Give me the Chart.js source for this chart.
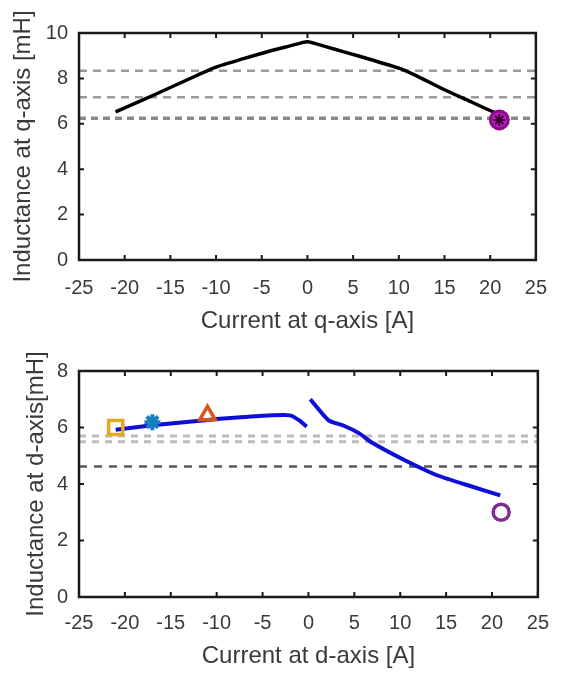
<!DOCTYPE html>
<html>
<head>
<meta charset="utf-8">
<script src="https://cdn.jsdelivr.net/npm/chart.js@4/dist/chart.umd.min.js"></script>
<style>
  body { margin: 0; background: #fff; }
  canvas { display: block; }
</style>
</head>
<body>
<canvas id="q-chart" width="563" height="340"></canvas>
<canvas id="d-chart" width="563" height="335"></canvas>
<script>
// --- DATA ---
const qCurrent = [-21, -18, -15, -12, -10, -7, -4, -2, 0, 2, 4, 7, 10, 12, 15, 18, 21];
const qInductance = [6.53, 7.05, 7.6, 8.15, 8.5, 8.87, 9.22, 9.42, 9.62, 9.4, 9.17, 8.82, 8.45, 8.1, 7.5, 6.95, 6.4];
const qRefLines = [8.34, 7.17];
const qRefDotted = [6.24];
const qMarker = { x: 21, y: 6.17 };

const dCurrentNeg = [-21, -17, -13, -10, -7, -4, -2, -1, -0.2];
const dInductanceNeg = [5.92, 6.08, 6.2, 6.3, 6.37, 6.43, 6.43, 6.25, 6.03];
const dCurrentPos = [0.2, 2.2, 3.8, 5.5, 7, 10.5, 14, 17.7, 20.9];
const dInductancePos = [7.0, 6.25, 6.07, 5.8, 5.45, 4.84, 4.31, 3.92, 3.6];
const dRefBand = [5.5, 5.7];
const dRefLines = [4.62];
const dMarkers = [
  { x: -21, y: 6.0, style: 'rect', color: '#E3A921', size: 10 },
  { x: -17, y: 6.19, style: 'star', color: '#1A7FC0', size: 8 },
  { x: -11, y: 6.43, style: 'triangle', color: '#D9541C', size: 9 },
  { x: 21, y: 3.0, style: 'circle', color: '#7E2F8E', size: 8 }
];

const xTicks = { min: -25, max: 25, step: 5 };
const FONT = '"Liberation Sans", Arial, sans-serif';
const TEXT = '#3a3a3a';

// --- HELPERS ---
const toPoints = (xs, ys) => xs.map((x, i) => ({ x, y: ys[i] }));
const hLine = (v, color, width, dash) => ({
  data: [{ x: xTicks.min, y: v }, { x: xTicks.max, y: v }],
  showLine: true, borderColor: color, borderWidth: width, borderDash: dash,
  pointRadius: 0
});

// box + inward ticks like matlab axes
const axesBox = {
  id: 'axesBox',
  afterDatasetsDraw(chart) {
    const { ctx, chartArea: a, scales } = chart;
    ctx.save();
    ctx.strokeStyle = '#1a1a1a';
    ctx.lineWidth = 2;
    ctx.beginPath();
    scales.x.ticks.forEach(t => {
      const px = scales.x.getPixelForValue(t.value);
      ctx.moveTo(px, a.bottom); ctx.lineTo(px, a.bottom - 5);
      ctx.moveTo(px, a.top); ctx.lineTo(px, a.top + 5);
    });
    scales.y.ticks.forEach(t => {
      const py = scales.y.getPixelForValue(t.value);
      ctx.moveTo(a.left, py); ctx.lineTo(a.left + 5, py);
      ctx.moveTo(a.right, py); ctx.lineTo(a.right - 5, py);
    });
    ctx.stroke();
    ctx.lineWidth = 2.5;
    ctx.strokeRect(a.left, a.top, a.right - a.left, a.bottom - a.top);
    ctx.restore();
  }
};

const makeOptions = (cfg) => ({
  responsive: false,
  animation: false,
  layout: { padding: { left: 0, right: 14, top: cfg.top, bottom: 0 } },
  plugins: { legend: { display: false }, tooltip: { enabled: false } },
  scales: {
    x: {
      type: 'linear', min: xTicks.min, max: xTicks.max,
      grid: { display: false, drawTicks: false }, border: { display: false },
      ticks: { stepSize: xTicks.step, padding: cfg.xPad, color: TEXT, font: { family: FONT, size: 20 } },
      title: { display: true, text: cfg.xTitle, color: TEXT, font: { family: FONT, size: 24 }, padding: { top: 0, bottom: 4 } },
      afterFit: s => { s.height = cfg.xHeight; }
    },
    y: {
      type: 'linear', min: 0, max: cfg.yMax,
      grid: { display: false, drawTicks: false }, border: { display: false },
      ticks: { stepSize: 2, padding: 11, color: TEXT, font: { family: FONT, size: 20 } },
      title: { display: true, text: cfg.yTitle, color: TEXT, font: { family: FONT, size: 24 }, padding: { top: cfg.yTitlePad, bottom: 0 } },
      afterFit: s => { s.width = 79; }
    }
  }
});

// --- Q-AXIS CHART ---
new Chart(document.getElementById('q-chart'), {
  type: 'scatter',
  data: {
    datasets: [
      {
        data: [qMarker], pointStyle: 'star', pointRadius: 6,
        borderColor: '#3a003a', borderWidth: 2
      },
      {
        data: [qMarker], pointStyle: 'circle', pointRadius: 9,
        backgroundColor: '#C21BC2', borderColor: '#8a0a8a', borderWidth: 3
      },
      {
        data: toPoints(qCurrent, qInductance), showLine: true,
        borderColor: '#000', borderWidth: 3.5, pointRadius: 0, tension: 0.2
      },
      ...qRefLines.map(v => hLine(v, '#9a9a9a', 2.5, [8, 6])),
      ...qRefDotted.map(v => hLine(v, '#8a8a8a', 3.5, [7, 5]))
    ]
  },
  options: makeOptions({
    top: 33, xHeight: 80, xPad: 16, yMax: 10, yTitlePad: 9,
    xTitle: 'Current at q-axis [A]', yTitle: 'Inductance at q-axis [mH]'
  }),
  plugins: [axesBox]
});

// --- D-AXIS CHART ---
new Chart(document.getElementById('d-chart'), {
  type: 'scatter',
  data: {
    datasets: [
      ...dMarkers.map(m => ({
        data: [{ x: m.x, y: m.y }], pointStyle: m.style, pointRadius: m.size,
        backgroundColor: m.style === 'star' ? m.color : 'rgba(0,0,0,0)',
        borderColor: m.color, borderWidth: m.style === 'star' ? 4 : 3.5
      })),
      {
        data: toPoints(dCurrentNeg, dInductanceNeg), showLine: true,
        borderColor: '#0E0ED6', borderWidth: 4, pointRadius: 0, tension: 0.2
      },
      {
        data: toPoints(dCurrentPos, dInductancePos), showLine: true,
        borderColor: '#0E0ED6', borderWidth: 4, pointRadius: 0, tension: 0.2
      },
      ...dRefBand.map(v => hLine(v, '#bdbdbd', 3, [7, 6])),
      ...dRefLines.map(v => hLine(v, '#5a5a5a', 2.5, [8, 7]))
    ]
  },
  options: makeOptions({
    top: 31, xHeight: 78, xPad: 14, yMax: 8, yTitlePad: 22,
    xTitle: 'Current at d-axis [A]', yTitle: 'Inductance at d-axis[mH]'
  }),
  plugins: [axesBox]
});
</script>
</body>
</html>
